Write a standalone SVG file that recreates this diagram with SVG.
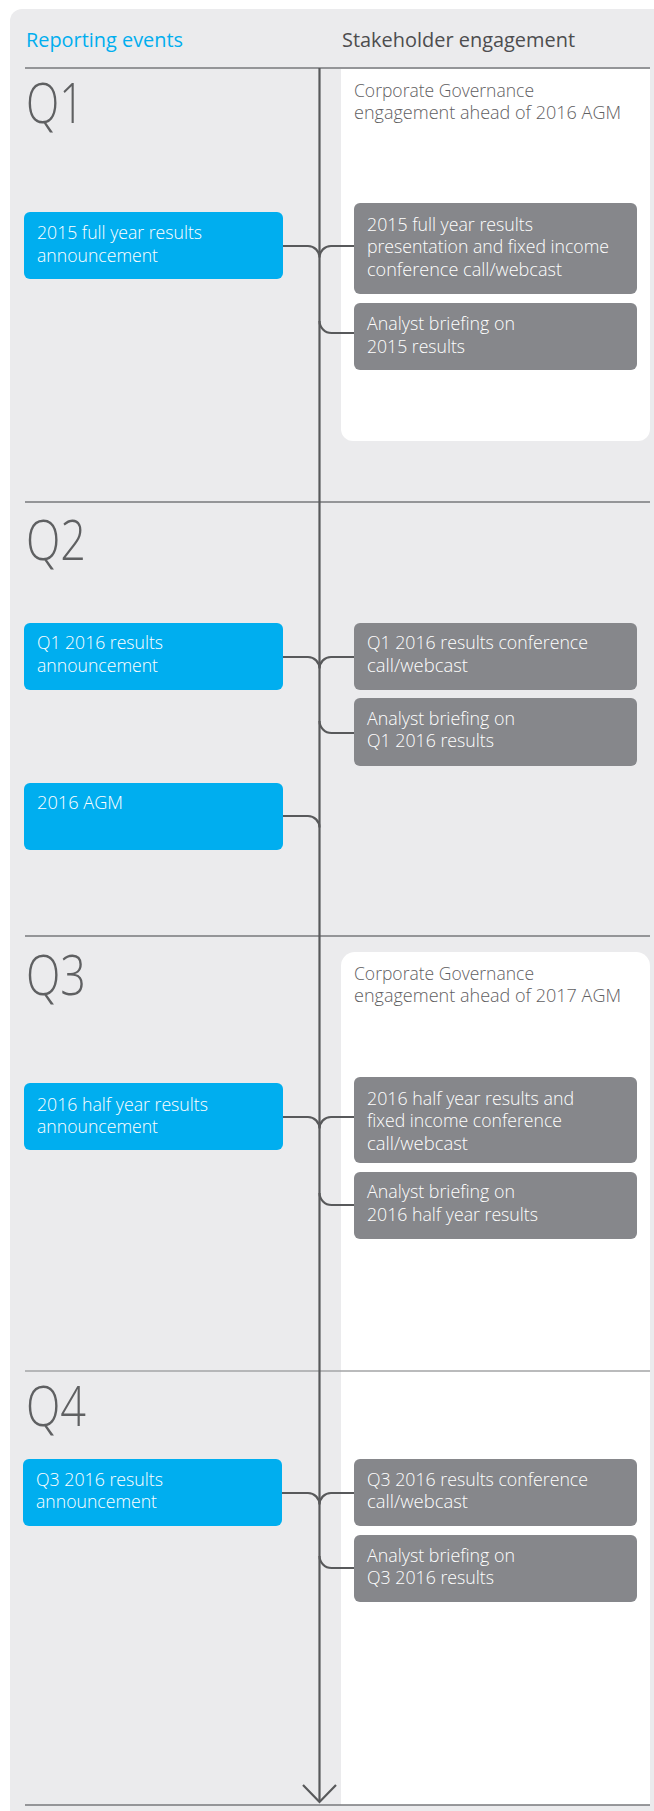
<svg xmlns="http://www.w3.org/2000/svg" width="654" height="1811" viewBox="0 0 654 1811">
<style>
text{font-family:"Open Sans","Liberation Sans",sans-serif;}
.hd{font-size:20px;font-weight:500;}
.q{font-size:55px;font-weight:300;fill:#5f6062;}
.t{font-size:18.5px;font-weight:300;}
.w{fill:#ffffff;}
.g{fill:#5f6062;}
.blue{fill:#00aeef;}
.grey{fill:#86878b;}
.sec{stroke:#77787b;stroke-width:1.6;fill:none;}
.con{stroke:#58595b;stroke-width:2.2;fill:none;}
</style>
<rect x="10" y="9" width="660" height="1820" rx="12" fill="#ebebed"/>
<path d="M341,69 H650 V429 A12,12 0 0 1 638,441 H353 A12,12 0 0 1 341,429 Z" fill="#ffffff"/>
<path d="M341,966 A14,14 0 0 1 355,952 H636 A14,14 0 0 1 650,966 V1805 H341 Z" fill="#ffffff"/>
<g id="headers">
<text class="hd" x="26" y="47" fill="#00aeef" textLength="157" lengthAdjust="spacingAndGlyphs">Reporting events</text>
<text class="hd" x="342" y="47" fill="#4d4d4f" textLength="233" lengthAdjust="spacingAndGlyphs">Stakeholder engagement</text>
</g>
<g id="section-lines">
<line class="sec" x1="25" y1="68" x2="650" y2="68"/>
<line class="sec" x1="25" y1="502" x2="650" y2="502"/>
<line class="sec" x1="25" y1="936" x2="650" y2="936"/>
<line class="sec" x1="25" y1="1371" x2="650" y2="1371" style="stroke:#a3a4a6"/>
<line class="sec" x1="25" y1="1805" x2="650" y2="1805"/>
</g>
<g id="quarters">
<text class="q" x="26" y="123" textLength="58" lengthAdjust="spacingAndGlyphs">Q1</text>
<text class="q" x="26" y="560" textLength="60" lengthAdjust="spacingAndGlyphs">Q2</text>
<text class="q" x="26" y="995" textLength="60" lengthAdjust="spacingAndGlyphs">Q3</text>
<text class="q" x="26" y="1426" textLength="60" lengthAdjust="spacingAndGlyphs">Q4</text>
</g>
<g id="connectors">
<line class="con" x1="319.5" y1="68" x2="319.5" y2="1802"/>
<path class="con" d="M303,1785 L319.5,1802 L336,1785"/>
<path class="con" d="M283,246 H308 A11.5,11.5 0 0 1 319.5,257.5 A11.5,11.5 0 0 1 331,246 H354"/>
<path class="con" d="M319.5,321 A12,12 0 0 0 331.5,333 H354"/>
<path class="con" d="M283,657 H308 A11.5,11.5 0 0 1 319.5,668.5 A11.5,11.5 0 0 1 331,657 H354"/>
<path class="con" d="M319.5,721 A12,12 0 0 0 331.5,733 H354"/>
<path class="con" d="M283,816 H308 A11.5,11.5 0 0 1 319.5,827.5"/>
<path class="con" d="M283,1117 H308 A11.5,11.5 0 0 1 319.5,1128.5 A11.5,11.5 0 0 1 331,1117 H354"/>
<path class="con" d="M319.5,1193 A12,12 0 0 0 331.5,1205 H354"/>
<path class="con" d="M282,1493 H308 A11.5,11.5 0 0 1 319.5,1504.5 A11.5,11.5 0 0 1 331,1493 H354"/>
<path class="con" d="M319.5,1556 A12,12 0 0 0 331.5,1568 H354"/>
</g>
<g id="cg-2016">
<text class="t g" x="354" y="97" textLength="180" lengthAdjust="spacingAndGlyphs">Corporate Governance</text>
<text class="t g" x="354" y="119" textLength="267" lengthAdjust="spacingAndGlyphs">engagement ahead of 2016 AGM</text>
</g>
<g id="fy2015">
<rect class="blue" x="24" y="212" width="259" height="67" rx="6"/>
<text class="t w" x="37" y="239" textLength="165" lengthAdjust="spacingAndGlyphs">2015 full year results</text>
<text class="t w" x="37" y="262" textLength="121" lengthAdjust="spacingAndGlyphs">announcement</text>
</g>
<g id="fy2015-call">
<rect class="grey" x="354" y="203" width="283" height="91" rx="6"/>
<text class="t w" x="367" y="231" textLength="166" lengthAdjust="spacingAndGlyphs">2015 full year results</text>
<text class="t w" x="367" y="253" textLength="242" lengthAdjust="spacingAndGlyphs">presentation and fixed income</text>
<text class="t w" x="367" y="276" textLength="195" lengthAdjust="spacingAndGlyphs">conference call/webcast</text>
</g>
<g id="fy2015-analyst">
<rect class="grey" x="354" y="303" width="283" height="67" rx="6"/>
<text class="t w" x="367" y="330" textLength="148" lengthAdjust="spacingAndGlyphs">Analyst briefing on</text>
<text class="t w" x="367" y="353" textLength="98" lengthAdjust="spacingAndGlyphs">2015 results</text>
</g>
<g id="q1-2016">
<rect class="blue" x="24" y="623" width="259" height="67" rx="6"/>
<text class="t w" x="37" y="649" textLength="126" lengthAdjust="spacingAndGlyphs">Q1 2016 results</text>
<text class="t w" x="37" y="672" textLength="121" lengthAdjust="spacingAndGlyphs">announcement</text>
</g>
<g id="q1-2016-call">
<rect class="grey" x="354" y="623" width="283" height="67" rx="6"/>
<text class="t w" x="367" y="649" textLength="221" lengthAdjust="spacingAndGlyphs">Q1 2016 results conference</text>
<text class="t w" x="367" y="672" textLength="101" lengthAdjust="spacingAndGlyphs">call/webcast</text>
</g>
<g id="q1-2016-analyst">
<rect class="grey" x="354" y="698" width="283" height="68" rx="6"/>
<text class="t w" x="367" y="725" textLength="148" lengthAdjust="spacingAndGlyphs">Analyst briefing on</text>
<text class="t w" x="367" y="747" textLength="127" lengthAdjust="spacingAndGlyphs">Q1 2016 results</text>
</g>
<g id="agm-2016">
<rect class="blue" x="24" y="783" width="259" height="67" rx="6"/>
<text class="t w" x="37" y="809" textLength="86" lengthAdjust="spacingAndGlyphs">2016 AGM</text>
</g>
<g id="cg-2017">
<text class="t g" x="354" y="980" textLength="180" lengthAdjust="spacingAndGlyphs">Corporate Governance</text>
<text class="t g" x="354" y="1002" textLength="267" lengthAdjust="spacingAndGlyphs">engagement ahead of 2017 AGM</text>
</g>
<g id="hy2016">
<rect class="blue" x="24" y="1083" width="259" height="67" rx="6"/>
<text class="t w" x="37" y="1111" textLength="171" lengthAdjust="spacingAndGlyphs">2016 half year results</text>
<text class="t w" x="37" y="1133" textLength="121" lengthAdjust="spacingAndGlyphs">announcement</text>
</g>
<g id="hy2016-call">
<rect class="grey" x="354" y="1077" width="283" height="86" rx="6"/>
<text class="t w" x="367" y="1105" textLength="207" lengthAdjust="spacingAndGlyphs">2016 half year results and</text>
<text class="t w" x="367" y="1127" textLength="195" lengthAdjust="spacingAndGlyphs">fixed income conference</text>
<text class="t w" x="367" y="1150" textLength="101" lengthAdjust="spacingAndGlyphs">call/webcast</text>
</g>
<g id="hy2016-analyst">
<rect class="grey" x="354" y="1172" width="283" height="67" rx="6"/>
<text class="t w" x="367" y="1198" textLength="148" lengthAdjust="spacingAndGlyphs">Analyst briefing on</text>
<text class="t w" x="367" y="1221" textLength="171" lengthAdjust="spacingAndGlyphs">2016 half year results</text>
</g>
<g id="q3-2016">
<rect class="blue" x="23" y="1459" width="259" height="67" rx="6"/>
<text class="t w" x="36" y="1486" textLength="127" lengthAdjust="spacingAndGlyphs">Q3 2016 results</text>
<text class="t w" x="36" y="1508" textLength="121" lengthAdjust="spacingAndGlyphs">announcement</text>
</g>
<g id="q3-2016-call">
<rect class="grey" x="354" y="1459" width="283" height="67" rx="6"/>
<text class="t w" x="367" y="1486" textLength="221" lengthAdjust="spacingAndGlyphs">Q3 2016 results conference</text>
<text class="t w" x="367" y="1508" textLength="101" lengthAdjust="spacingAndGlyphs">call/webcast</text>
</g>
<g id="q3-2016-analyst">
<rect class="grey" x="354" y="1535" width="283" height="67" rx="6"/>
<text class="t w" x="367" y="1562" textLength="148" lengthAdjust="spacingAndGlyphs">Analyst briefing on</text>
<text class="t w" x="367" y="1584" textLength="127" lengthAdjust="spacingAndGlyphs">Q3 2016 results</text>
</g>
</svg>
